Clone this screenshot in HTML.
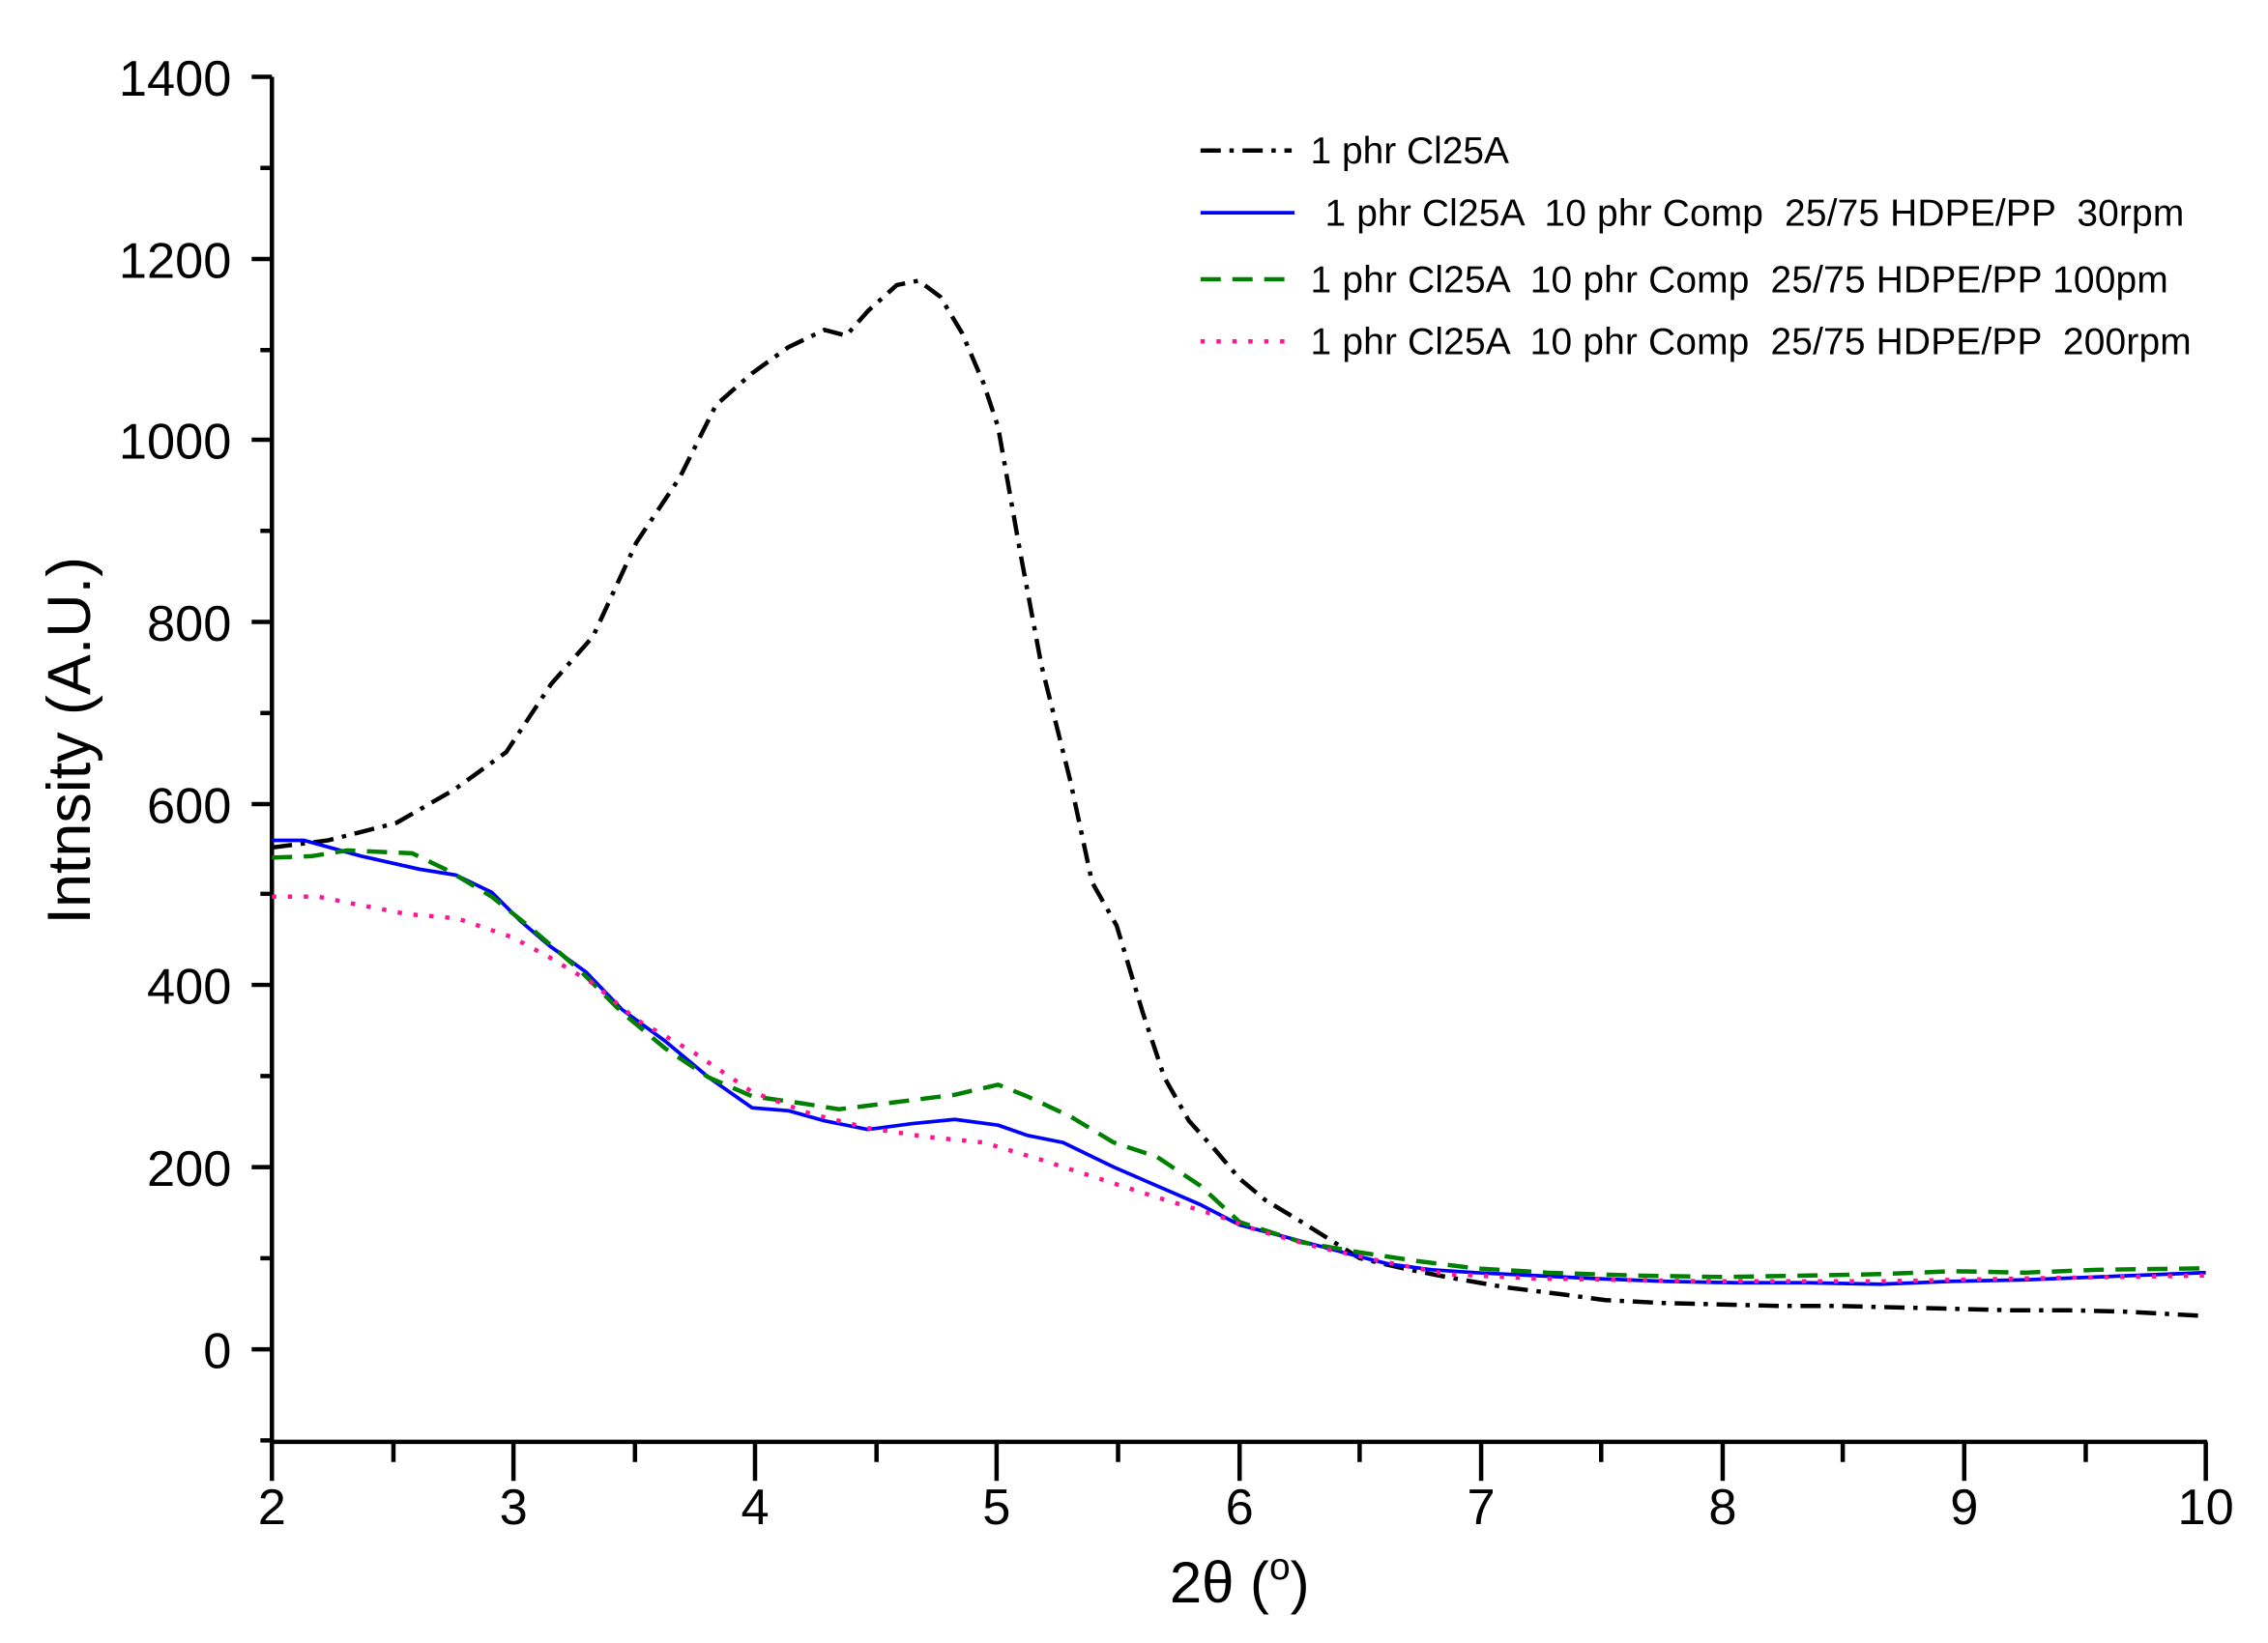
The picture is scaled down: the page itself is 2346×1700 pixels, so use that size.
<!DOCTYPE html>
<html><head><meta charset="utf-8"><style>html,body{margin:0;padding:0;background:#fff}svg{display:block}</style></head>
<body>
<svg width="2346" height="1700" viewBox="0 0 1568 1136" xmlns="http://www.w3.org/2000/svg" font-family="Liberation Sans, Arial, sans-serif">
<rect width="1568" height="1136" fill="#fff"/>
<g stroke="#000" stroke-width="3" fill="none" stroke-linecap="butt">
<line x1="188" y1="53" x2="188" y2="998"/>
<line x1="187" y1="997" x2="1526" y2="997"/>
<path d="M174 53H188M174 179H188M174 304H188M174 430H188M174 556H188M174 681H188M174 807H188M174 933H188"/>
<path d="M180 116H188M180 242H188M180 367H188M180 493H188M180 618H188M180 744H188M180 870H188M180 996H188"/>
<path d="M188 997V1024M355 997V1024M522 997V1024M689 997V1024M857 997V1024M1024 997V1024M1191 997V1024M1358 997V1024M1525 997V1024"/>
<path d="M272 997V1011M439 997V1011M606 997V1011M773 997V1011M940 997V1011M1107 997V1011M1274 997V1011M1442 997V1011"/>
</g>
<g font-size="35" text-anchor="end" fill="#000">
<text x="160" y="66">1400</text><text x="160" y="192">1200</text><text x="160" y="317">1000</text><text x="160" y="443">800</text><text x="160" y="569">600</text><text x="160" y="694">400</text><text x="160" y="820">200</text><text x="160" y="946">0</text>
</g>
<g font-size="35" text-anchor="middle" fill="#000">
<text x="188" y="1054">2</text><text x="355" y="1054">3</text><text x="522" y="1054">4</text><text x="689" y="1054">5</text><text x="857" y="1054">6</text><text x="1024" y="1054">7</text><text x="1191" y="1054">8</text><text x="1358" y="1054">9</text><text x="1525" y="1054">10</text>
</g>
<text x="857" y="1108" font-size="40" text-anchor="middle">2θ (<tspan font-size="26" dy="-16">o</tspan><tspan dy="16">)</tspan></text>
<text transform="translate(62,512) rotate(-90)" font-size="42" text-anchor="middle">Intnsity (A.U.)</text>
<g fill="none" stroke-linejoin="round" stroke-width="3">
<polyline stroke="#000" stroke-dasharray="14,6,3,6" points="188,586 227,581 274,569 314,546 350,520 381,473 410,440 440,375 470,330 495,280 520,258 545,240 570,228 585,232 600,215 620,197 635,194 650,205 665,230 680,265 690,295 705,380 720,460 740,540 755,610 772,640 790,700 805,745 822,775 840,795 857,815 875,830 900,845 940,870 970,877 1000,883 1040,890 1080,895 1110,899 1150,901 1190,902 1230,903 1270,903 1310,904 1350,905 1390,906 1430,906 1470,907 1525,910"/>
<polyline stroke="#0000ff" stroke-width="2.5" points="188,581 210,581 250,592 290,601 315,605 340,617 360,637 380,654 405,672 430,698 460,720 490,745 520,766 545,768 570,775 600,781 630,777 660,774 690,778 710,785 735,790 770,807 800,820 830,833 857,847 880,853 910,861 940,869 960,874 990,878 1020,880 1060,882 1100,884 1150,886 1200,887 1250,887 1300,888 1350,886 1400,885 1450,883 1525,880"/>
<polyline stroke="#008000" stroke-dasharray="14,8" points="188,593 215,592 240,588 285,590 310,602 340,620 365,640 400,670 430,700 460,725 490,745 520,758 555,763 580,767 620,762 660,757 690,750 710,758 740,772 770,790 800,800 830,820 857,845 900,859 940,866 980,872 1020,877 1070,880 1130,882 1190,883 1250,882 1300,881 1350,879 1400,880 1450,878 1525,877"/>
<polyline stroke="#ff1493" stroke-dasharray="3,8" points="188,620 220,620 245,625 281,632 316,635 354,648 380,662 410,680 440,705 480,728 520,755 560,770 600,780 640,786 680,790 720,802 760,815 800,828 840,840 870,851 910,862 950,871 1000,881 1060,884 1120,885 1180,886 1240,886 1300,886 1400,884 1525,882"/>
</g>
<g fill="none" stroke-width="3">
<line x1="830" y1="104" x2="893" y2="104" stroke="#000" stroke-dasharray="14,6,3,6"/>
<line x1="830" y1="147" x2="895" y2="147" stroke="#0000ff" stroke-width="2.5"/>
<line x1="830" y1="193" x2="893" y2="193" stroke="#008000" stroke-dasharray="14,8"/>
<line x1="830" y1="236" x2="893" y2="236" stroke="#ff1493" stroke-dasharray="3,8"/>
</g>
<g font-size="26" fill="#000">
<text x="906" y="113" xml:space="preserve">1 phr Cl25A</text>
<text x="916" y="156" xml:space="preserve" textLength="594">1 phr Cl25A  10 phr Comp  25/75 HDPE/PP  30rpm</text>
<text x="906" y="202" xml:space="preserve" textLength="593">1 phr Cl25A  10 phr Comp  25/75 HDPE/PP 100pm</text>
<text x="906" y="245" xml:space="preserve" textLength="609">1 phr Cl25A  10 phr Comp  25/75 HDPE/PP  200rpm</text>
</g>
</svg>
</body></html>
